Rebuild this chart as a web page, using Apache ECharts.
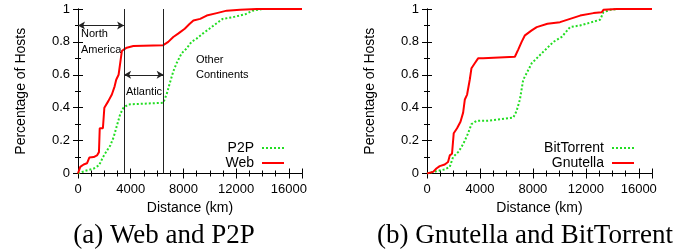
<!DOCTYPE html>
<html>
<head>
<meta charset="utf-8">
<script src="https://cdn.jsdelivr.net/npm/echarts@6/dist/echarts.min.js"></script>
<style>html,body{margin:0;padding:0;background:#fff;}#c{width:678px;height:249px;}</style>
</head>
<body>
<div id="c"></div>
<script>
// ---- data (distance km, cumulative fraction of hosts) ----
const webData = [[0,0],[170,0.04],[430,0.055],[680,0.062],[860,0.097],[1190,0.10],[1440,0.11],[1590,0.13],[1650,0.275],[1890,0.275],[2000,0.40],[2300,0.44],[2570,0.48],[2780,0.53],[2900,0.57],[3080,0.60],[3200,0.67],[3330,0.745],[3500,0.755],[3700,0.765],[4200,0.775],[6470,0.78],[6850,0.80],[7230,0.83],[7600,0.85],[8100,0.88],[8480,0.91],[8760,0.93],[9270,0.94],[9770,0.96],[10530,0.975],[11290,0.99],[12300,0.995],[13560,1.0],[17000,1.0]];
const p2pData = [[0,0],[550,0.016],[1190,0.03],[1600,0.05],[1900,0.10],[2200,0.14],[2450,0.17],[2700,0.22],[2950,0.29],[3200,0.36],[3450,0.40],[3830,0.42],[6470,0.43],[6720,0.48],[6970,0.55],[7230,0.62],[7480,0.67],[7860,0.73],[8240,0.76],[8610,0.80],[9000,0.82],[9460,0.85],[9970,0.88],[10470,0.91],[10980,0.94],[11740,0.95],[12750,0.97],[13260,0.99],[14020,1.0],[17000,1.0]];
const gnutellaData = [[0,0],[460,0.01],[710,0.03],[960,0.045],[1340,0.055],[1590,0.07],[1720,0.11],[1890,0.12],[2020,0.245],[2270,0.275],[2530,0.315],[2730,0.37],[2860,0.45],[3030,0.48],[3230,0.57],[3360,0.64],[3610,0.67],[3860,0.70],[4240,0.70],[6640,0.71],[6900,0.755],[7150,0.80],[7400,0.84],[7910,0.87],[8290,0.89],[9100,0.91],[10050,0.92],[10810,0.94],[11570,0.96],[12580,0.975],[13200,0.98],[13330,0.995],[14340,1.0],[17000,1.0]];
const bitTorrentData = [[0,0],[710,0.014],[1340,0.025],[1720,0.04],[1970,0.10],[2350,0.13],[2600,0.16],[2860,0.20],[3110,0.245],[3360,0.30],[3740,0.32],[4500,0.32],[6520,0.34],[6770,0.38],[7020,0.45],[7270,0.57],[7530,0.61],[7910,0.67],[8410,0.71],[9040,0.76],[9550,0.80],[10180,0.83],[10810,0.89],[11570,0.90],[12450,0.92],[13080,0.935],[13330,0.98],[13840,0.995],[14340,1.0],[17000,1.0]];
const regionBounds = [3500, 6500];          // km
const naArrow = [[0, 0.9], [3500, 0.9]];    // North America span
const atlArrow = [[3500, 0.6], [6500, 0.6]];// Atlantic span
const captions = ['(a) Web and P2P', '(b) Gnutella and BitTorrent'];
const xName = 'Distance (km)';
const yName = 'Percentage of Hosts';

const RED = '#ff0000', GREEN = '#22dd22';
const sans = 'Liberation Sans, Arial, Helvetica, sans-serif';

const grids = [
  {left: 78, top: 9, width: 224, height: 164.5},
  {left: 427, top: 9, width: 225, height: 164.5}
];

function xAxes(g) {
  const base = {
    gridIndex: g, type: 'value', min: 0, max: 17000, interval: 4000,
    axisLine: {show: true, lineStyle: {color: '#000', width: 1}},
    axisTick: {show: true, inside: true, length: 5, lineStyle: {color: '#000'}},
    minorTick: {show: true, splitNumber: 4, length: 3, lineStyle: {color: '#000'}},
    splitLine: {show: false}
  };
  return [
    Object.assign({}, base, {position: 'bottom',
      name: xName, nameLocation: 'middle', nameGap: 28,
      nameTextStyle: {fontFamily: sans, fontSize: 14, color: '#000'},
      axisLabel: {fontFamily: sans, fontSize: 13, color: '#000', margin: 9, formatter: v => String(v)}}),
    Object.assign({}, base, {position: 'top', axisLabel: {show: false}})
  ];
}
function yAxes(g) {
  const base = {
    gridIndex: g, type: 'value', min: 0, max: 1, interval: 0.2,
    axisLine: {show: true, lineStyle: {color: '#000', width: 1}},
    axisTick: {show: true, inside: true, length: 5, lineStyle: {color: '#000'}},
    minorTick: {show: true, splitNumber: 2, length: 3, lineStyle: {color: '#000'}},
    splitLine: {show: false}
  };
  return [
    Object.assign({}, base, {position: 'left',
      name: yName, nameLocation: 'middle', nameGap: 50, nameRotate: 90,
      nameTextStyle: {fontFamily: sans, fontSize: 14, color: '#000'},
      axisLabel: {fontFamily: sans, fontSize: 13, color: '#000', margin: 8, formatter: v => String(+v.toFixed(1))}}),
    Object.assign({}, base, {position: 'right', axisLabel: {show: false}})
  ];
}

function lineSeries(name, data, g, color, dotted, extra) {
  return Object.assign({
    name, type: 'line', data, xAxisIndex: 2 * g, yAxisIndex: 2 * g,
    symbol: 'none', showSymbol: false, smooth: false,
    lineStyle: {color, width: 2, type: dotted ? 'dotted' : 'solid'},
    itemStyle: {color}, z: dotted ? 3 : 4
  }, extra || {});
}

const markLines = {
  silent: true, label: {show: false}, animation: false,
  data: [
    ...regionBounds.map(v => [{coord: [v, 0], symbol: 'none'}, {coord: [v, 1], symbol: 'none'}]),
    [{coord: naArrow[0]}, {coord: naArrow[1]}],
    [{coord: atlArrow[0]}, {coord: atlArrow[1]}]
  ],
  symbol: ['arrow', 'arrow'], symbolSize: [6, 7],
  lineStyle: {color: '#222', width: 1, type: 'solid'}
};

const legendBase = {
  orient: 'vertical', align: 'right', top: 141, padding: 0,
  itemWidth: 22, itemHeight: 14, itemGap: 1,
  itemStyle: {opacity: 0},
  textStyle: {fontFamily: sans, fontSize: 14, color: '#000', padding: [0, 3, 0, 0]}
};

const option = {
  animation: false,
  grid: grids,
  xAxis: [...xAxes(0), ...xAxes(1)],
  yAxis: [...yAxes(0), ...yAxes(1)],
  legend: [
    Object.assign({}, legendBase, {data: ['P2P', 'Web'], right: 393}),
    Object.assign({}, legendBase, {data: ['BitTorrent', 'Gnutella'], right: 43})
  ],
  series: [
    lineSeries('P2P', p2pData, 0, GREEN, true),
    lineSeries('Web', webData, 0, RED, false, {markLine: markLines}),
    lineSeries('BitTorrent', bitTorrentData, 1, GREEN, true),
    lineSeries('Gnutella', gnutellaData, 1, RED, false)
  ],
  graphic: [
    {type: 'text', left: 81, top: 26, style: {text: 'North\nAmerica', font: '11px ' + sans, fill: '#000', lineHeight: 16}},
    {type: 'text', left: 126, top: 86, style: {text: 'Atlantic', font: '11px ' + sans, fill: '#000'}},
    {type: 'text', left: 196, top: 52, style: {text: 'Other\nContinents', font: '11px ' + sans, fill: '#000', lineHeight: 15}},
    {type: 'text', x: 164, y: 236, style: {text: captions[0], font: '27px "Liberation Serif", "Times New Roman", serif', fill: '#000', align: 'center', verticalAlign: 'middle'}},
    {type: 'text', x: 525, y: 236, style: {text: captions[1], font: '27px "Liberation Serif", "Times New Roman", serif', fill: '#000', align: 'center', verticalAlign: 'middle'}}
  ]
};

const chart = echarts.init(document.getElementById('c'), null, {renderer: 'canvas'});
chart.setOption(option);
</script>
</body>
</html>
